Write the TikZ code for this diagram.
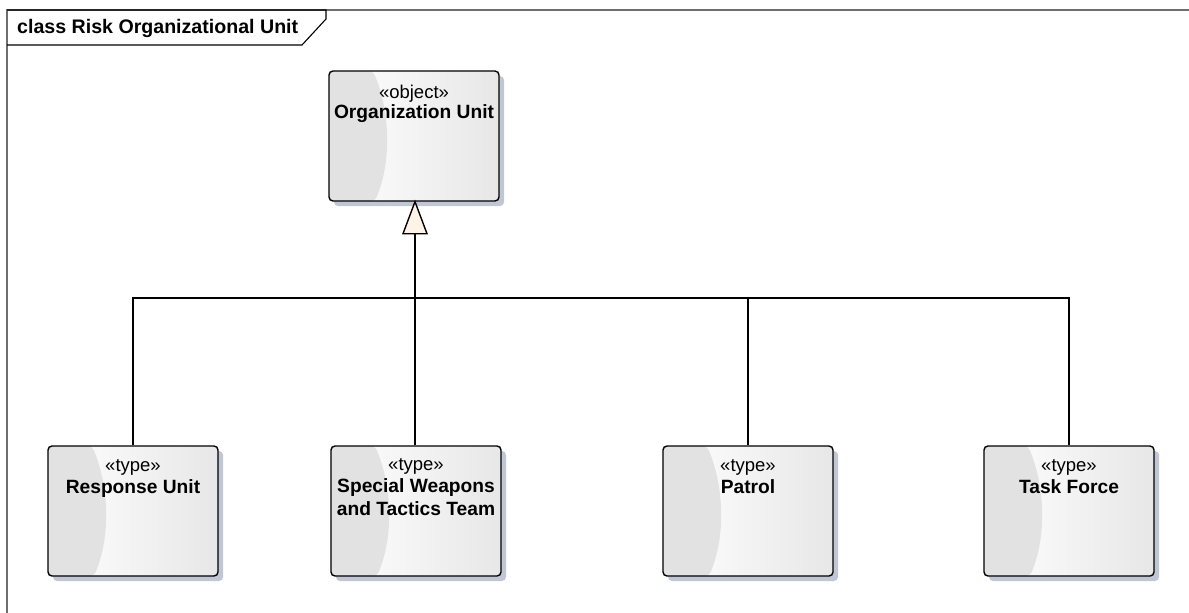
\documentclass[tikz,border=0pt]{standalone}
\usepackage{fontspec}
\setmainfont{Liberation Sans}
\usetikzlibrary{calc,shadows}
\definecolor{shadowc}{RGB}{192,198,212}
\definecolor{leftgray}{RGB}{226,226,226}
\definecolor{rightgray}{RGB}{231,231,231}
\definecolor{trifill}{RGB}{253,243,230}
\definecolor{framegray}{RGB}{110,110,110}
\tikzset{
  umlbox/.style={draw=black, line width=1.4pt, rounded corners=4pt,
    minimum width=170pt, minimum height=130pt, inner sep=0pt,
    drop shadow={fill=shadowc, opacity=1, shadow xshift=5pt, shadow yshift=-5pt},
    path picture={
      \shade[left color=white, right color=rightgray]
        (path picture bounding box.south west) rectangle (path picture bounding box.north east);
      \fill[leftgray] (path picture bounding box.north west) -- ++(44pt,0pt)
        .. controls +(17pt,-40pt) and +(17pt,40pt) .. ($(path picture bounding box.south west)+(46pt,0pt)$)
        -- (path picture bounding box.south west) -- cycle;
    }},
  stereo/.style={font=\fontsize{18.5}{21}\selectfont, inner sep=0pt, anchor=center},
  ename/.style={font=\fontsize{19.2}{23.5}\selectfont\bfseries, inner sep=0pt, align=center, anchor=north},
  conn/.style={draw=black, line width=1.4pt},
}
\begin{document}
\begin{tikzpicture}[x=1pt, y=-1pt]
\useasboundingbox (0,0) rectangle (1189,613);
% frame
\draw[framegray, line width=1.2pt] (7,613) -- (7,10) -- (1189,10);
\draw[black, line width=1.1pt] (7,10) -- (326,10) -- (326,19) -- (302,45) -- (7,45);
\node[font=\fontsize{19.6}{22}\selectfont\bfseries, anchor=west, inner sep=0pt] (title) at (17,28) {class Risk Organizational Unit};

% boxes
\node[umlbox] (ou) at (414,136) {};
\node[umlbox] (ru) at (133,511) {};
\node[umlbox] (sw) at (416,511) {};
\node[umlbox] (pa) at (748,511) {};
\node[umlbox] (tf) at (1069,511) {};

% texts
\node[stereo] (ous) at ($(ou.north)+(0,23)$) {«object»};
\node[ename] (oun) at ($(ou.north)+(0,34)$) {Organization Unit};
\node[stereo] (rus) at ($(ru.north)+(0,22)$) {«type»};
\node[ename] (run) at ($(ru.north)+(0,34)$) {Response Unit};
\node[stereo] (sws) at ($(sw.north)+(0,21)$) {«type»};
\node[ename] (swn) at ($(sw.north)+(0,33)$) {Special Weapons\\and Tactics Team};
\node[stereo] (pas) at ($(pa.north)+(0,22)$) {«type»};
\node[ename] (pan) at ($(pa.north)+(0,34)$) {Patrol};
\node[stereo] (tfs) at ($(tf.north)+(0,22)$) {«type»};
\node[ename] (tfn) at ($(tf.north)+(0,34)$) {Task Force};

% generalization
\coordinate (apex) at ($(ou.south)+(1,0)$);
\coordinate (tb) at ($(apex)+(0,32)$);
\coordinate (bus) at (415,298);
\draw[conn] (tb) -- (bus);
\draw[conn] (ru.north) |- (bus) -| (tf.north);
\draw[conn] (sw.north -| bus) -- (bus);
\draw[conn] (pa.north) -- (pa.north |- bus);
\draw[conn, fill=trifill, line join=miter] (apex) -- ($(tb)+(-12,0)$) -- ($(tb)+(12,0)$) -- cycle;
\end{tikzpicture}
\end{document}
